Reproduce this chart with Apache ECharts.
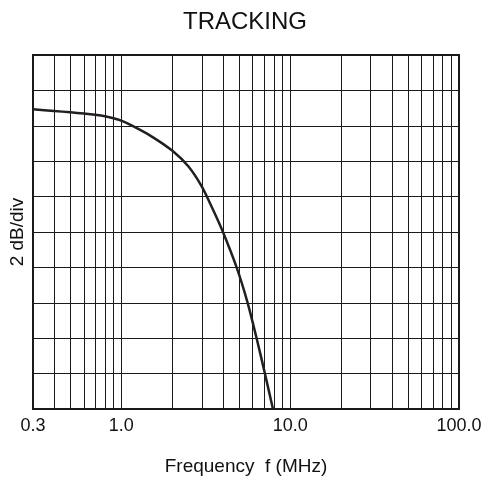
<!DOCTYPE html>
<html>
<head>
<meta charset="utf-8">
<script src="https://cdn.jsdelivr.net/npm/echarts@6/dist/echarts.min.js"></script>
<style>html,body{margin:0;padding:0;background:#fff;}#c{width:490px;height:482px;}</style>
</head>
<body>
<div id="c"></div>
<script>
// Frequency (MHz) and relative gain (dB above bottom of plot, 2 dB/div)
const freq = [0.3, 0.4, 0.5, 0.6, 0.7, 0.8, 0.9, 1.0, 1.15, 1.5, 2.0, 2.5, 3.0, 3.5, 4.0, 4.82, 5.6, 6.33, 7.09, 7.91];
const gain = [16.93, 16.84, 16.76, 16.69, 16.62, 16.54, 16.43, 16.29, 16.02, 15.42, 14.6, 13.7, 12.56, 11.24, 10.0, 8.0, 6.0, 4.0, 2.0, 0.0];
// vertical grid lines on the log axis
const gridFreqs = [0.4,0.5,0.6,0.7,0.8,0.9,1,2,3,4,5,6,7,8,9,10,20,30,40,50,60,70,80,90];
const xTickLabels = [0.3, 1, 10, 100];

const chart = echarts.init(document.getElementById('c'), null, {renderer: 'canvas'});
const FONT = 'Liberation Sans, Arial, Helvetica, sans-serif';
chart.setOption({
  animation: false,
  backgroundColor: '#fff',
  title: {
    text: 'TRACKING', left: 'center', top: 5,
    textStyle: {fontFamily: FONT, fontSize: 24, fontWeight: 'normal', color: '#111'}
  },
  grid: {left: 33, right: 31, top: 55, bottom: 73, show: true, borderColor: '#1a1a1a', borderWidth: 2, backgroundColor: 'transparent'},
  xAxis: {
    type: 'log', logBase: 10, min: 0.3, max: 100,
    name: 'Frequency  f (MHz)', nameLocation: 'middle', nameGap: 48,
    nameTextStyle: {fontFamily: FONT, fontSize: 19, color: '#111'},
    axisLine: {show: false}, axisTick: {show: false}, splitLine: {show: false},
    axisLabel: {
      fontFamily: FONT, fontSize: 18, color: '#111', margin: 8,
      showMinLabel: true, showMaxLabel: true,
      formatter: function (v) {
        const n = Number(v);
        for (const t of xTickLabels) { if (Math.abs(n - t) / t < 1e-6) return t.toFixed(1); }
        return '';
      }
    }
  },
  yAxis: {
    type: 'value', min: 0, max: 20, interval: 2,
    name: '2 dB/div', nameLocation: 'middle', nameGap: 6, nameRotate: 90,
    nameTextStyle: {fontFamily: FONT, fontSize: 19, color: '#111'},
    axisLine: {show: false}, axisTick: {show: false}, axisLabel: {show: false},
    splitLine: {show: true, lineStyle: {color: '#1a1a1a', width: 1}}
  },
  series: [{
    type: 'line',
    data: freq.map((f, i) => [f, gain[i]]),
    smooth: 0.25,
    showSymbol: false,
    symbol: 'none',
    clip: true,
    lineStyle: {color: '#231f20', width: 2.5},
    z: 5,
    markLine: {
      silent: true, symbol: ['none', 'none'], animation: false,
      label: {show: false},
      lineStyle: {color: '#1a1a1a', width: 1, type: 'solid'},
      emphasis: {disabled: true},
      data: gridFreqs.map(f => ({xAxis: f}))
    }
  }]
});
</script>
</body>
</html>
